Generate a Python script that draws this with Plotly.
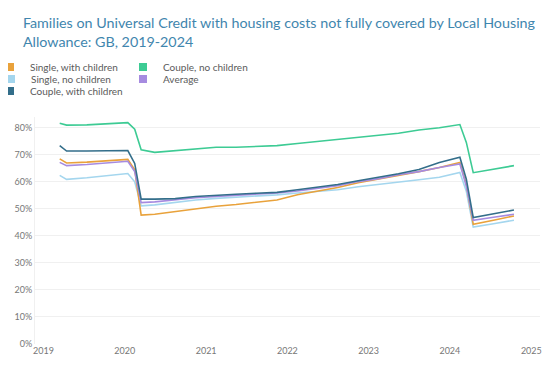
import plotly.graph_objects as go

dates = ["2019-03-15", "2019-04-15", "2019-07-15", "2019-10-15", "2020-01-15", "2020-02-15",
         "2020-03-15", "2020-05-15", "2020-08-15", "2020-11-15", "2021-02-15", "2021-05-15",
         "2021-08-15", "2021-11-15", "2022-02-15", "2022-05-15", "2022-08-15", "2022-11-15",
         "2023-02-15", "2023-05-15", "2023-08-15", "2023-11-15", "2024-02-15", "2024-03-15",
         "2024-04-15", "2024-07-15", "2024-10-15"]

single_with_children = [68.5, 67.0, 67.3, 67.8, 68.3, 64.5, 47.7, 48.0, 49.0, 50.2, 51.0, 51.6,
                        52.4, 53.3, 55.2, 56.5, 57.9, 59.7, 61.0, 62.4, 63.8, 65.3, 67.2, 59.0,
                        44.3, 45.8, 47.4]
couple_no_children = [81.7, 81.0, 81.1, 81.4, 81.9, 79.5, 71.9, 70.9, 71.5, 72.3, 72.8, 72.8,
                      73.0, 73.4, 74.2, 74.9, 75.6, 76.6, 77.2, 78.0, 79.2, 80.0, 81.2, 74.6,
                      63.4, 64.8, 66.0]
single_no_children = [62.4, 60.9, 61.5, 62.4, 63.1, 60.0, 51.1, 51.5, 52.4, 53.3, 53.9, 54.3,
                      54.8, 55.2, 55.9, 56.5, 57.1, 58.2, 59.0, 59.9, 60.8, 61.7, 63.5, 56.5,
                      43.3, 44.5, 45.8]
average = [67.2, 66.0, 66.4, 66.9, 67.6, 63.8, 52.3, 52.6, 53.4, 54.1, 54.6, 55.0,
           55.5, 55.9, 56.6, 57.6, 58.6, 60.1, 61.2, 62.6, 63.8, 65.3, 66.6, 58.5,
           45.8, 46.9, 48.0]
couple_with_children = [73.4, 71.4, 71.4, 71.6, 71.6, 66.8, 53.6, 53.6, 53.8, 54.6, 55.1, 55.4,
                        55.8, 56.1, 57.1, 58.0, 59.0, 60.4, 61.6, 63.0, 64.6, 67.2, 69.1, 61.0,
                        46.8, 48.3, 49.6]

names = ["Single, with children", "Couple, no children", "Single, no children", "Average",
         "Couple, with children"]
values = [single_with_children, couple_no_children, single_no_children, average,
          couple_with_children]
colors = ["#E9A23B", "#3DCB94", "#A4D6EE", "#A68BE0", "#336E8A"]

year_ticks = ["2019-01-01", "2020-01-01", "2021-01-01", "2022-01-01", "2023-01-01",
              "2024-01-01", "2025-01-01"]
year_labels = ["2019", "2020", "2021", "2022", "2023", "2024", "2025"]
pct_ticks = [0, 10, 20, 30, 40, 50, 60, 70, 80]
pct_labels = [f"{v}%" for v in pct_ticks]

W, H = 552, 368
fig = go.Figure()

# draw order: back to front
draw_order = [1, 2, 0, 3, 4]
for i in draw_order:
    fig.add_trace(go.Scatter(
        x=dates, y=values[i], mode="lines", name=names[i],
        line=dict(color=colors[i], width=1.6), showlegend=False,
        legendgroup=names[i],
        hovertemplate="%{y:.1f}%<extra>" + names[i] + "</extra>"))

# legend entries (square swatches), one legend each for exact placement
# (x in px, anchor, y-centre in px)
legend_pos = [(115, "right", 59), (115, "left", 59), (108, "right", 71),
              (115, "left", 71), (120, "right", 83)]
legend_ids = ["legend", "legend2", "legend3", "legend4", "legend5"]
layout_legends = {}
for i in range(5):
    fig.add_trace(go.Scatter(
        x=[None], y=[None], mode="markers", name=names[i], legendgroup=names[i],
        marker=dict(symbol="square", size=8, color=colors[i]),
        showlegend=True, legend=legend_ids[i]))
    lx, anchor, ly = legend_pos[i]
    layout_legends[legend_ids[i]] = dict(
        x=lx / W, y=1 - ly / H, xref="container", yref="container",
        xanchor=anchor, yanchor="middle", bgcolor="rgba(0,0,0,0)",
        font=dict(family="Lato, sans-serif", size=10, color="#5a5a5a"),
        itemwidth=30, borderwidth=0)

fig.update_layout(
    width=W, height=H,
    paper_bgcolor="white", plot_bgcolor="white",
    margin=dict(l=27, r=20, t=109, b=32, autoexpand=False),
    title=dict(
        text="Families on Universal Credit with housing costs not fully covered by Local Housing<br>Allowance: GB, 2019-2024",
        x=0.027, xanchor="left", xref="container",
        y=1 - 20 / H, yanchor="top", yref="container",
        font=dict(family="Lato, sans-serif", size=14.3, color="#3F86AE")),
    font=dict(family="Lato, sans-serif", color="#666"),
    xaxis=dict(
        type="date", range=["2018-11-24", "2025-02-09"],
        tickvals=year_ticks, ticktext=year_labels,
        showgrid=False, zeroline=False, showline=False, ticks="",
        tickfont=dict(size=9, color="#777")),
    yaxis=dict(
        range=[0, 84], tickvals=pct_ticks, ticktext=pct_labels,
        showgrid=True, gridcolor="#f0f0f0", gridwidth=1, zeroline=False,
        showline=True, linecolor="#f0f0f0", linewidth=1, ticks="",
        tickfont=dict(size=9, color="#777")),
    hovermode="closest",
    **layout_legends,
)

fig.write_html("out.html")
